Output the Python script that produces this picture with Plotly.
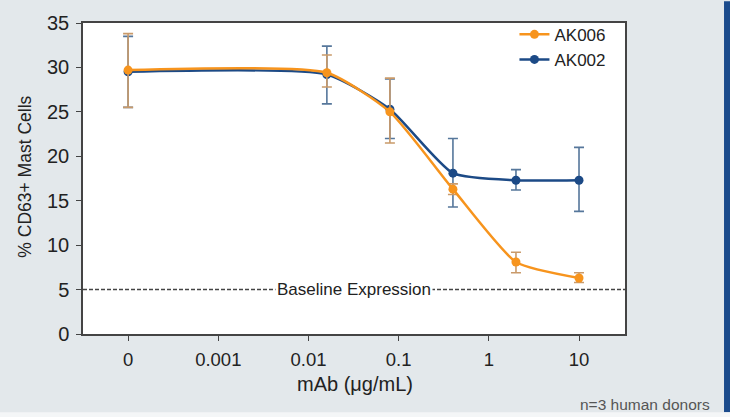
import plotly.graph_objects as go

# concentration labels (µg/mL); "0" is drawn at the axis-break position 1e-4
conc = [0, 0.016, 0.08, 0.4, 2, 10]
zero_pos = 1e-4
tick_vals = [1e-4, 1e-3, 1e-2, 1e-1, 1, 10]
tick_text = ["0", "0.001", "0.01", "0.1", "1", "10"]

ak006 = [29.7, 29.4, 25.0, 16.3, 8.1, 6.3]
ak006_err_plus = [4.1, 2.0, 3.8, 0.6, 1.1, 0.6]
ak006_err_minus = [4.2, 1.6, 3.5, 0.6, 1.2, 0.5]

ak002 = [29.5, 29.2, 25.3, 18.1, 17.3, 17.3]
ak002_err_plus = [4.0, 3.2, 3.4, 3.9, 1.2, 3.7]
ak002_err_minus = [4.0, 3.3, 3.3, 3.8, 1.1, 3.5]

baseline = 5

x_pos = [zero_pos if c == 0 else c for c in conc]

ORANGE = "#f7941d"
NAVY = "#1c4a86"
BG = "#e3e8eb"

fig = go.Figure()

fig.add_trace(go.Scatter(
    x=x_pos, y=ak002, name="AK002", mode="lines+markers",
    line=dict(color=NAVY, width=2.5, shape="spline", smoothing=0.55),
    marker=dict(color=NAVY, size=9),
    error_y=dict(type="data", array=ak002_err_plus, arrayminus=ak002_err_minus,
                 color="#56779b", thickness=1.6, width=5),
    legendrank=2,
))
fig.add_trace(go.Scatter(
    x=x_pos, y=ak006, name="AK006", mode="lines+markers",
    line=dict(color=ORANGE, width=2.5, shape="spline", smoothing=0.55),
    marker=dict(color=ORANGE, size=9),
    error_y=dict(type="data", array=ak006_err_plus, arrayminus=ak006_err_minus,
                 color="#c99a6a", thickness=1.6, width=5),
    legendrank=1,
))

font = "Liberation Sans, Arial, sans-serif"

fig.update_layout(
    width=730, height=417,
    margin=dict(l=83, r=105, t=20, b=83),
    paper_bgcolor=BG, plot_bgcolor="white",
    font=dict(family=font, color="#222"),
    showlegend=True,
    legend=dict(x=0.975, y=1.02, xanchor="right", yanchor="top",
                bgcolor="rgba(0,0,0,0)", font=dict(size=17, color="#222"),
                itemwidth=30, tracegroupgap=0),
    xaxis=dict(type="log", range=[-4.5, 1.51], tickvals=tick_vals, ticktext=tick_text,
               showgrid=False, zeroline=False, showline=True, mirror=True,
               linecolor="#444", linewidth=1.5, ticks="outside", ticklen=5,
               tickcolor="#444", tickfont=dict(size=18.5, color="#222"),
               ticklabelstandoff=3),
    yaxis=dict(range=[0, 35], dtick=5, showgrid=False, zeroline=False,
               showline=True, mirror=True, linecolor="#444", linewidth=1.5,
               ticks="outside", ticklen=5, tickcolor="#444",
               tickfont=dict(size=20, color="#222"), ticklabelstandoff=3),
    shapes=[
        dict(type="line", xref="paper", yref="y", x0=0, x1=1, y0=baseline, y1=baseline,
             line=dict(color="#444", width=1.4, dash="4px,2px")),
        dict(type="rect", xref="paper", yref="paper", x0=1.1827, x1=1.2, y0=-0.2516, y1=1.07,
             fillcolor="#1b4b8c", line=dict(width=0), layer="above"),
        dict(type="rect", xref="paper", yref="paper", x0=-0.2, x1=1.2, y0=-0.27, y1=-0.2516,
             fillcolor="#f4f6f7", line=dict(width=0), layer="above"),
    ],
    annotations=[
        dict(text="Baseline Expression", xref="paper", yref="y", x=0.5, y=baseline,
             showarrow=False, bgcolor="white", font=dict(size=17, color="#222"),
             xanchor="center", yanchor="middle", borderpad=1),
        dict(text="mAb (\u03bcg/mL)", xref="paper", yref="paper", x=0.502, y=-0.162,
             showarrow=False, font=dict(size=20, color="#222"),
             xanchor="center", yanchor="middle"),
        dict(text="% CD63+ Mast Cells", xref="paper", yref="paper", x=-0.107, y=0.506,
             showarrow=False, textangle=-90, font=dict(size=17.5, color="#222"),
             xanchor="center", yanchor="middle"),
        dict(text="n=3 human donors", xref="paper", yref="paper", x=1.1605, y=-0.226,
             showarrow=False, font=dict(size=15.5, color="#555"),
             xanchor="right", yanchor="middle"),
    ],
)

fig.write_html("out.html")
